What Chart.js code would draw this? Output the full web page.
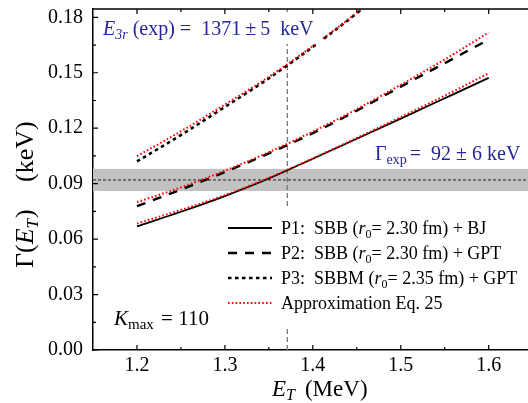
<!DOCTYPE html>
<html>
<head>
<meta charset="utf-8">
<script src="https://cdn.jsdelivr.net/npm/chart.js@4.4.0/dist/chart.umd.min.js"></script>
<style>
  html, body { margin: 0; padding: 0; background: #fff; }
  #wrap { width: 528px; height: 403px; }
</style>
</head>
<body>
<div id="wrap"><canvas id="c" width="528" height="403"></canvas></div>
<script>
// Resonance energy E_T (MeV)
const energies = [1.2, 1.25, 1.3, 1.35, 1.4, 1.45, 1.5, 1.55, 1.6];

// Width Γ(E_T) for the three potentials
const p1Width = [0.0669, 0.0748, 0.0833, 0.0928, 0.1035, 0.1143, 0.1252, 0.1362, 0.1472];
const p2Width = [0.0778, 0.0868, 0.0963, 0.1064, 0.1173, 0.1295, 0.1425, 0.1552, 0.1680];
const p3Width = [0.1020, 0.1163, 0.1315, 0.1470, 0.1640, 0.1822, 0.2020, 0.2240, 0.2480];

// Approximation (Eq. 25) for each potential
const p1Approx = [0.0684, 0.0758, 0.0838, 0.0932, 0.1037, 0.1147, 0.1260, 0.1376, 0.1497];
const p2Approx = [0.0800, 0.0880, 0.0970, 0.1070, 0.1182, 0.1303, 0.1435, 0.1572, 0.1718];
const p3Approx = [0.1049, 0.1183, 0.1328, 0.1478, 0.1645, 0.1825, 0.2022, 0.2240, 0.2480];

// Axis ticks
const xTicks = [1.2, 1.3, 1.4, 1.5, 1.6];
const xMinorTicks = [1.25, 1.35, 1.45, 1.55];
const yTicks = [0.00, 0.03, 0.06, 0.09, 0.12, 0.15, 0.18];
const yMinorTicks = [0.015, 0.045, 0.075, 0.105, 0.135, 0.165];

// Experimental values
const gammaExp = 0.092;
const gammaErr = 0.006;
const e3rExp = 1.371;

const serif = '"Liberation Serif", "Times New Roman", serif';
const blue = '#25259c';

function pts(values) {
  return energies.map((e, i) => ({ x: e, y: values[i] }));
}

// Draw a run of text pieces (italic / subscript) left to right
function drawRuns(ctx, x, y, parts) {
  let cx = x;
  for (const p of parts) {
    ctx.font = (p.i ? 'italic ' : '') + p.s + 'px ' + serif;
    ctx.fillText(p.t, cx, y + (p.dy || 0));
    cx += ctx.measureText(p.t).width + (p.gap || 0);
  }
  return cx - x;
}

const styles = {
  p1: { color: '#000', width: 1.8, dash: [] },
  p2: { color: '#000', width: 2.4, dash: [9, 8] },
  p3: { color: '#000', width: 2.6, dash: [3.5, 3.5] },
  approx: { color: '#ff0000', width: 2, dash: [1.6, 2.2] }
};

function ds(label, values, st, order) {
  return {
    label: label,
    data: pts(values),
    borderColor: st.color,
    borderWidth: st.width,
    borderDash: st.dash,
    pointRadius: 0,
    fill: false,
    cubicInterpolationMode: 'monotone',
    order: order
  };
}

const decorations = {
  id: 'decorations',
  beforeDatasetsDraw(chart) {
    const { ctx, chartArea: a, scales: { x, y } } = chart;
    ctx.save();
    // experimental width band
    const yTop = y.getPixelForValue(gammaExp + gammaErr);
    const yBot = y.getPixelForValue(gammaExp - gammaErr);
    ctx.fillStyle = '#c2c2c2';
    ctx.fillRect(a.left, yTop, a.right - a.left, yBot - yTop);
    // central value
    const yc = y.getPixelForValue(gammaExp);
    ctx.strokeStyle = '#222';
    ctx.lineWidth = 1;
    ctx.setLineDash([3, 2]);
    ctx.beginPath();
    ctx.moveTo(a.left, yc);
    ctx.lineTo(a.right, yc);
    ctx.stroke();
    // experimental resonance energy
    const xe = x.getPixelForValue(e3rExp);
    ctx.strokeStyle = '#7a7a7a';
    ctx.lineWidth = 1.3;
    ctx.setLineDash([5, 3]);
    ctx.beginPath();
    ctx.moveTo(xe, a.top);
    ctx.lineTo(xe, a.bottom);
    ctx.stroke();
    ctx.restore();
  },
  afterDatasetsDraw(chart) {
    const { ctx, chartArea: a, scales: { x, y } } = chart;
    ctx.save();

    // label boxes
    ctx.fillStyle = '#fff';
    ctx.fillRect(100, 12, 222, 32);
    ctx.fillRect(222, 208, 303, 118);

    // frame top
    ctx.strokeStyle = '#000';
    ctx.lineWidth = 1.5;
    ctx.setLineDash([]);
    ctx.beginPath();
    ctx.moveTo(a.left, a.top);
    ctx.lineTo(a.right, a.top);
    ctx.stroke();
    // inward tick marks
    ctx.lineWidth = 1.2;
    ctx.beginPath();
    const xt = (v, len) => {
      const px = x.getPixelForValue(v);
      ctx.moveTo(px, a.bottom); ctx.lineTo(px, a.bottom - len);
      ctx.moveTo(px, a.top); ctx.lineTo(px, a.top + len);
    };
    xTicks.forEach(v => xt(v, 5));
    xMinorTicks.forEach(v => xt(v, 3));
    const yt = (v, len) => {
      const py = y.getPixelForValue(v);
      ctx.moveTo(a.left, py); ctx.lineTo(a.left + len, py);
    };
    yTicks.forEach(v => yt(v, 5));
    yMinorTicks.forEach(v => yt(v, 3));
    ctx.stroke();

    // E3r label
    ctx.fillStyle = blue;
    ctx.textBaseline = 'alphabetic';
    drawRuns(ctx, 103, 35, [
      { t: 'E', i: 1, s: 20 },
      { t: '3r', i: 1, s: 14, dy: 4, gap: 5 },
      { t: '(exp) =  1371\u2009\u00b1\u20095  keV', s: 20 }
    ]);
    // Gamma exp label
    drawRuns(ctx, 375, 160, [
      { t: '\u0393', s: 20 },
      { t: 'exp', s: 14, dy: 4, gap: 3 },
      { t: '=  92 \u00b1 6 keV', s: 20 }
    ]);
    // K max
    ctx.fillStyle = '#000';
    drawRuns(ctx, 114, 325, [
      { t: 'K', i: 1, s: 21 },
      { t: 'max', s: 15, dy: 4, gap: 2 },
      { t: ' = 110', s: 21 }
    ]);

    // legend
    const rows = [
      { st: styles.p1, parts: [{ t: 'P1:  SBB (', s: 18 }, { t: 'r', i: 1, s: 18 }, { t: '0', s: 12, dy: 4 }, { t: '= 2.30 fm) + BJ', s: 18 }] },
      { st: styles.p2, parts: [{ t: 'P2:  SBB (', s: 18 }, { t: 'r', i: 1, s: 18 }, { t: '0', s: 12, dy: 4 }, { t: '= 2.30 fm) + GPT', s: 18 }] },
      { st: styles.p3, parts: [{ t: 'P3:  SBBM (', s: 18 }, { t: 'r', i: 1, s: 18 }, { t: '0', s: 12, dy: 4 }, { t: '= 2.35 fm) + GPT', s: 18 }] },
      { st: styles.approx, parts: [{ t: 'Approximation Eq. 25', s: 18 }] }
    ];
    rows.forEach((r, i) => {
      const ly = 228 + i * 25;
      ctx.strokeStyle = r.st.color;
      ctx.lineWidth = r.st.width;
      ctx.setLineDash(r.st.dash);
      ctx.beginPath();
      ctx.moveTo(228, ly);
      ctx.lineTo(272, ly);
      ctx.stroke();
      ctx.fillStyle = '#000';
      drawRuns(ctx, 281, ly + 6, r.parts);
    });
    ctx.setLineDash([]);

    // axis titles
    ctx.fillStyle = '#000';
    drawRuns(ctx, 272, 396, [
      { t: 'E', i: 1, s: 23 },
      { t: 'T', i: 1, s: 16, dy: 4, gap: 10 },
      { t: '(MeV)', s: 23 }
    ]);
    ctx.save();
    ctx.translate(33, 268);
    ctx.rotate(-Math.PI / 2);
    drawRuns(ctx, 0, 0, [
      { t: '\u0393(', s: 26 },
      { t: 'E', i: 1, s: 26 },
      { t: 'T', i: 1, s: 17, dy: 5, gap: 1 },
      { t: ')', s: 26 }
    ]);
    drawRuns(ctx, 86, 0, [{ t: '(keV)', s: 26 }]);
    ctx.restore();
    ctx.restore();
  }
};

new Chart(document.getElementById('c'), {
  type: 'line',
  data: {
    datasets: [
      ds('Approximation P1', p1Approx, styles.approx, 0),
      ds('Approximation P2', p2Approx, styles.approx, 0),
      ds('Approximation P3', p3Approx, styles.approx, 0),
      ds('P1: SBB (r0 = 2.30 fm) + BJ', p1Width, styles.p1, 1),
      ds('P2: SBB (r0 = 2.30 fm) + GPT', p2Width, styles.p2, 1),
      ds('P3: SBBM (r0 = 2.35 fm) + GPT', p3Width, styles.p3, 1)
    ]
  },
  options: {
    responsive: false,
    animation: false,
    devicePixelRatio: 1,
    layout: { padding: { top: 9, right: 0, bottom: 0, left: 0 } },
    plugins: { legend: { display: false }, tooltip: { enabled: false } },
    scales: {
      x: {
        type: 'linear',
        min: 1.15,
        max: 1.6447,
        grid: { display: false, drawTicks: false },
        border: { display: true, color: '#000', width: 1.5 },
        ticks: {
          color: '#000',
          padding: 4,
          font: { family: serif, size: 20 },
          callback: v => v.toFixed(1)
        },
        afterBuildTicks: s => { s.ticks = xTicks.map(v => ({ value: v })); },
        afterFit: s => { s.height = 53; s.paddingLeft = 0; s.paddingRight = 0; }
      },
      y: {
        type: 'linear',
        min: 0,
        max: 0.1845,
        grid: { display: false, drawTicks: false },
        border: { display: true, color: '#000', width: 1.5 },
        ticks: {
          color: '#000',
          padding: 10,
          font: { family: serif, size: 20 },
          callback: v => v.toFixed(2)
        },
        afterBuildTicks: s => { s.ticks = yTicks.map(v => ({ value: v })); },
        afterFit: s => { s.width = 93; s.paddingTop = 0; s.paddingBottom = 0; }
      }
    }
  },
  plugins: [decorations]
});
</script>
</body>
</html>
